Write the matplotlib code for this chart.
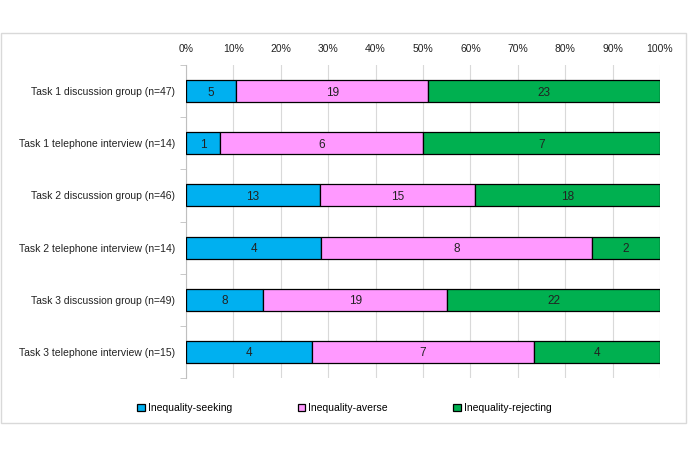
import matplotlib
matplotlib.use("Agg")
import matplotlib.pyplot as plt
import numpy as np
from matplotlib.patches import Rectangle
from matplotlib.ticker import FixedLocator

plt.rcParams['font.family'] = ['Liberation Sans', 'DejaVu Sans']

categories = ["Task 1 discussion group (n=47)", "Task 1 telephone interview (n=14)",
              "Task 2 discussion group (n=46)", "Task 2 telephone interview (n=14)",
              "Task 3 discussion group (n=49)", "Task 3 telephone interview (n=15)"]
seeking = [5, 1, 13, 4, 8, 4]
averse = [19, 6, 15, 8, 19, 7]
rejecting = [23, 7, 18, 2, 22, 4]
series_names = ["Inequality-seeking", "Inequality-averse", "Inequality-rejecting"]
colors = ["#00B0F0", "#FF99FF", "#00B050"]
xticks = [0, 10, 20, 30, 40, 50, 60, 70, 80, 90, 100]

fig = plt.figure(figsize=(6.89, 4.58), dpi=100)
ax = fig.add_axes([186/689, 1-378/458, (660-186)/689, (378-65)/458])

data = np.array([seeking, averse, rejecting], dtype=float)
totals = data.sum(axis=0)
pct = data / totals * 100
y = np.arange(len(categories))
left = np.zeros(len(categories))
for i in range(3):
    bars = ax.barh(y, pct[i], left=left, height=0.42, color=colors[i],
                   edgecolor="black", linewidth=0.9, label=series_names[i], zorder=3)
    for j, b in enumerate(bars):
        ax.text(left[j] + pct[i][j]/2, y[j], str(int(data[i][j])), ha="center",
                va="center_baseline", fontsize=8.5, color="#222222", zorder=4)
    left += pct[i]

ax.set_xlim(0, 100)
ax.set_ylim(len(categories)-0.5, -0.5)
ax.set_xticks(xticks)
ax.set_xticklabels([f"{t}%" for t in xticks])
ax.xaxis.tick_top()
ax.tick_params(axis="x", length=0, labelsize=7.5, pad=8, colors="#222222")
ax.set_yticks(y)
ax.set_yticklabels(categories)
ax.tick_params(axis="y", which="major", length=0, labelsize=7.5, pad=8, colors="#222222")
ax.yaxis.set_minor_locator(FixedLocator(np.arange(-0.5, len(categories), 1)))
ax.tick_params(axis="y", which="minor", length=4, color="#BFBFBF", direction="out")
ax.grid(axis="x", color="#D9D9D9", linewidth=0.8, zorder=0)
for s in ["top", "right", "bottom"]:
    ax.spines[s].set_visible(False)
ax.spines["left"].set_color("#BFBFBF")
ax.spines["left"].set_linewidth(0.8)

handles, labels = ax.get_legend_handles_labels()
leg = fig.legend(handles, labels, loc="center", bbox_to_anchor=(0.5, 1-408/458), ncol=3,
                 frameon=False, fontsize=7.5, handlelength=0.7, handleheight=0.7,
                 columnspacing=6.3, handletextpad=0.3)

fig.patches.append(Rectangle((1/689, 1-423/458), 685/689, (423-33)/458, transform=fig.transFigure,
                             fill=False, edgecolor="#D9D9D9", linewidth=1))

fig.savefig("out.png", dpi=100)
